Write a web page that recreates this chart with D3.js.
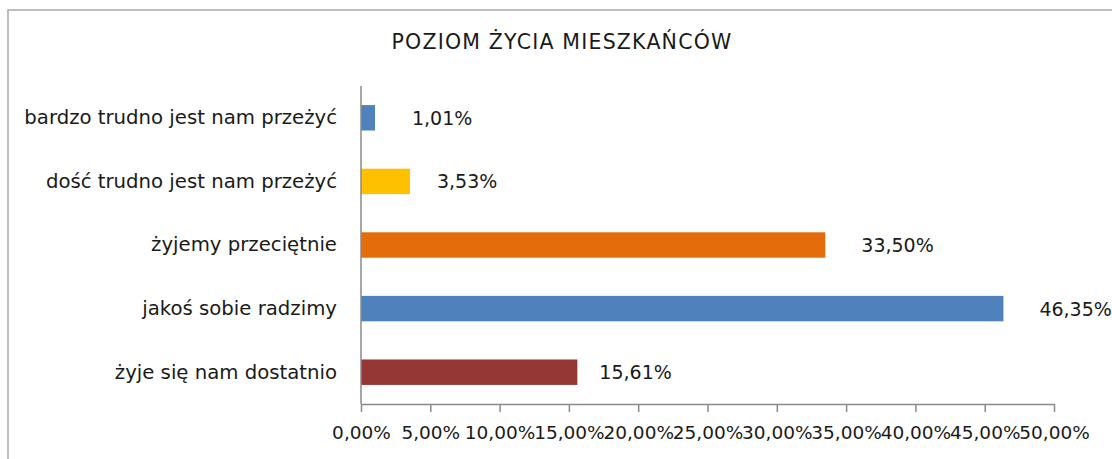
<!DOCTYPE html>
<html>
<head>
<meta charset="utf-8">
<script src="https://cdn.jsdelivr.net/npm/d3@7"></script>
<style>
  html, body { margin: 0; padding: 0; background: #fff; }
  svg { display: block; }
  text { font-family: "DejaVu Sans", Verdana, sans-serif; fill: #1a1a1a; }
</style>
</head>
<body>
<svg id="chart" width="1112" height="459"></svg>
<script>
// Living standard of residents (survey shares)
const categories = [
  "bardzo trudno jest nam przeżyć",
  "dość trudno jest nam przeżyć",
  "żyjemy przeciętnie",
  "jakoś sobie radzimy",
  "żyje się nam dostatnio"
];
const shares = [1.01, 3.53, 33.50, 46.35, 15.61];
const barColors = ["#4F81BD", "#FFC000", "#E46C0A", "#4F81BD", "#953735"];
const tickValues = [0, 5, 10, 15, 20, 25, 30, 35, 40, 45, 50];
const title = "POZIOM ŻYCIA MIESZKAŃCÓW";

// label offsets from bar ends (px)
const labelGap = [37, 27, 36, 36, 22];

const svg = d3.select("#chart");
const fmt = v => v.toFixed(2).replace(".", ",") + "%";

// outer frame
svg.append("rect")
  .attr("x", 8).attr("y", 10)
  .attr("width", 1130).attr("height", 470)
  .attr("fill", "none")
  .attr("stroke", "#ababab")
  .attr("stroke-width", 1.5);

const plotLeft = 361, plotRight = 1054, plotTop = 86, plotBottom = 404;

const x = d3.scaleLinear().domain([0, 50]).range([plotLeft, plotRight]);
const y = d3.scaleBand().domain(categories).range([plotTop, plotBottom]).paddingInner(0.6).paddingOuter(0.3);

svg.append("text")
  .attr("x", 562).attr("y", 42)
  .attr("text-anchor", "middle")
  .attr("dominant-baseline", "central")
  .style("font-size", "20.5px")
  .style("letter-spacing", "1.2px")
  .text(title);

// bars
svg.append("g").selectAll("rect")
  .data(categories)
  .join("rect")
  .attr("x", x(0))
  .attr("y", d => y(d))
  .attr("width", (d, i) => x(shares[i]) - x(0))
  .attr("height", y.bandwidth())
  .attr("fill", (d, i) => barColors[i]);

// value labels
svg.append("g").selectAll("text")
  .data(categories)
  .join("text")
  .attr("x", (d, i) => x(shares[i]) + labelGap[i])
  .attr("y", d => y(d) + y.bandwidth() / 2)
  .attr("dominant-baseline", "central")
  .style("font-size", "19px")
  .text((d, i) => fmt(shares[i]));

// category axis
const yAxis = svg.append("g")
  .attr("transform", `translate(${plotLeft},0)`)
  .call(d3.axisLeft(y).tickSize(0).tickPadding(24));
yAxis.select(".domain").attr("stroke", "#8a8a8a").attr("stroke-width", 1.5)
  .attr("d", `M0,${plotTop}V${plotBottom}`);
yAxis.selectAll("text")
  .style("font-size", "19.7px")
  .attr("font-family", null)
  .attr("fill", "#1a1a1a");

// value axis
const xAxis = svg.append("g")
  .attr("transform", `translate(0,${plotBottom})`)
  .call(d3.axisBottom(x).tickValues(tickValues).tickSize(8).tickSizeOuter(0).tickPadding(14)
    .tickFormat(v => fmt(v)));
xAxis.select(".domain").attr("stroke", "#8a8a8a").attr("stroke-width", 1.5);
xAxis.selectAll(".tick line").attr("stroke", "#8a8a8a").attr("stroke-width", 1.5);
xAxis.selectAll("text")
  .style("font-size", "18.5px")
  .attr("font-family", null)
  .attr("fill", "#1a1a1a");
</script>
</body>
</html>
